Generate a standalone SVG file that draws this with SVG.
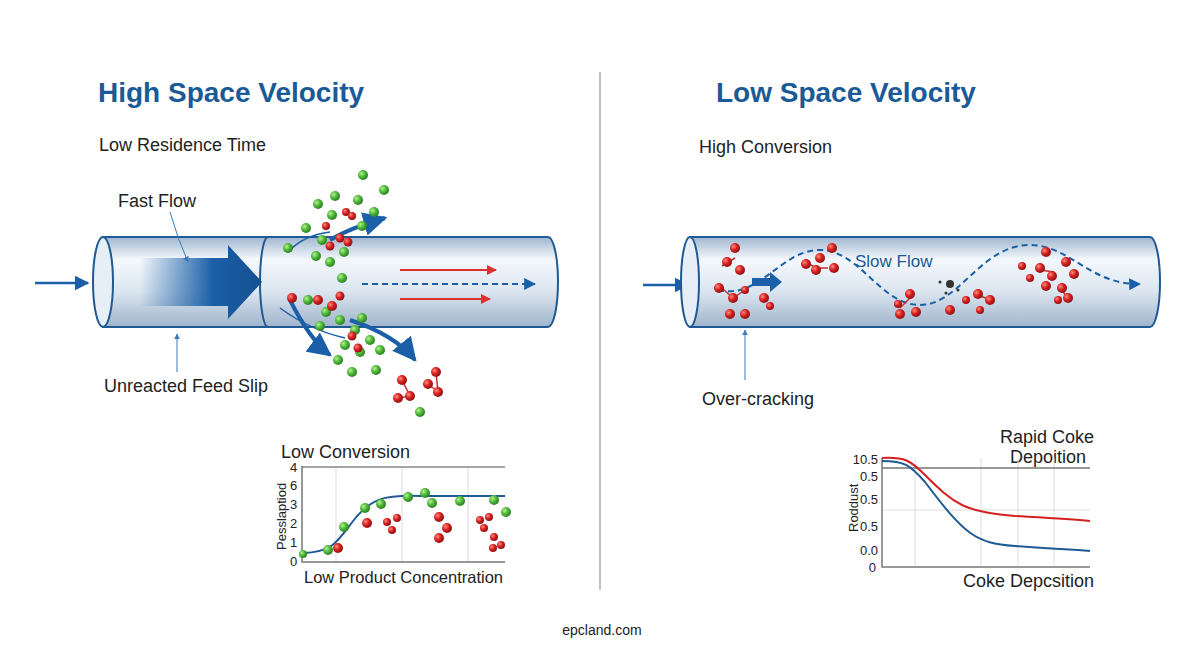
<svg xmlns="http://www.w3.org/2000/svg" width="1200" height="654" viewBox="0 0 1200 654">
<defs>
<linearGradient id="pipe" x1="0" y1="0" x2="0" y2="1">
<stop offset="0" stop-color="#9fb6cf"/><stop offset="0.25" stop-color="#f4f8fc"/><stop offset="0.6" stop-color="#dce6f0"/><stop offset="1" stop-color="#9fb4cc"/></linearGradient>
<linearGradient id="bigarrow" x1="0" y1="0" x2="1" y2="0">
<stop offset="0" stop-color="#1a5fa8" stop-opacity="0"/><stop offset="0.6" stop-color="#1a5fa8"/><stop offset="1" stop-color="#14508f"/></linearGradient>
<radialGradient id="g" cx="0.35" cy="0.35" r="0.7"><stop offset="0" stop-color="#b6f08a"/><stop offset="0.5" stop-color="#4cb83a"/><stop offset="1" stop-color="#2a7a20"/></radialGradient>
<radialGradient id="r" cx="0.35" cy="0.35" r="0.7"><stop offset="0" stop-color="#ff8a7a"/><stop offset="0.5" stop-color="#d42020"/><stop offset="1" stop-color="#8a1010"/></radialGradient>
<marker id="ah" viewBox="0 0 10 10" refX="9" refY="5" markerWidth="6" markerHeight="6" orient="auto"><path d="M0,0 L10,5 L0,10 z" fill="#1a5fa8"/></marker>
<marker id="ahr" viewBox="0 0 10 10" refX="9" refY="5" markerWidth="5" markerHeight="5" orient="auto"><path d="M0,0 L10,5 L0,10 z" fill="#e03030"/></marker>
<marker id="ahs" viewBox="0 0 10 10" refX="9" refY="5" markerWidth="6" markerHeight="6" orient="auto"><path d="M0,0 L10,5 L0,10 z" fill="#3a7ab8"/></marker>
</defs>
<style>
.t{font-family:"Liberation Sans",Arial,sans-serif;fill:#222}
.title{font-family:"Liberation Sans",Arial,sans-serif;font-weight:bold;font-size:28px;fill:#1a5a96}
.lbl{font-size:18px}
.ax{font-size:13px}
.pipe{fill:url(#pipe);stroke:#1f5a94;stroke-width:2}
.end{fill:#e6eef6;stroke:#1f5a94;stroke-width:2}
.gp{fill:url(#g)}
.rp{fill:url(#r)}
.grid{stroke:#ddd;stroke-width:1}
.axis{stroke:#777;stroke-width:1.5;fill:none}
.ptr{stroke:#3a7ab8;stroke-width:1;fill:none;marker-end:url(#ahs)}
.flow{stroke:#1a5fa8;stroke-width:4;fill:none;marker-end:url(#ah)}
.bond{stroke:#c03030;stroke-width:1.5}
</style>
<rect width="1200" height="654" fill="#fff"/>
<line x1="600" y1="72" x2="600" y2="590" stroke="#aab" stroke-width="1.5"/>

<g id="left-title"><text class="title" x="98" y="102">High Space Velocity</text>
<text class="t lbl" x="99" y="151">Low Residence Time</text></g>

<g id="left-pipe">
<path class="pipe" d="M103,237 H548 A10,45 0 0 1 548,327 H103 Z"/>
<ellipse class="end" cx="103" cy="282" rx="10" ry="45"/>
<path d="M268,237 A8,45 0 0 0 268,327" fill="none" stroke="#1f5a94" stroke-width="2"/>
<path d="M140,258 H228 V245 L262,282 L228,319 V306 H140 Z" fill="url(#bigarrow)"/>
<line x1="400" y1="270" x2="496" y2="270" stroke="#e03030" stroke-width="2" marker-end="url(#ahr)"/>
<line x1="400" y1="299" x2="490" y2="299" stroke="#e03030" stroke-width="2" marker-end="url(#ahr)"/>
<line x1="362" y1="284" x2="535" y2="284" stroke="#1a5fa8" stroke-width="2" stroke-dasharray="6,4" marker-end="url(#ah)"/>
</g>

<g id="connectors">
<line x1="35" y1="283" x2="88" y2="283" stroke="#1a5fa8" stroke-width="2.5" marker-end="url(#ah)"/>
<line x1="643" y1="285" x2="688" y2="285" stroke="#1a5fa8" stroke-width="2.5" marker-end="url(#ah)"/>
<path class="ptr" d="M170,212 Q178,240 188,262"/>
<line class="ptr" x1="177" y1="372" x2="177" y2="334"/>
<line class="ptr" x1="745" y1="380" x2="745" y2="330"/>
<path class="flow" d="M330,240 Q350,228 385,218"/>
<path class="flow" d="M290,300 Q310,340 330,355"/>
<path class="flow" d="M350,320 Q395,335 415,360"/>
<path d="M290,250 Q305,235 330,232" fill="none" stroke="#1a5fa8" stroke-width="1.5"/>
<path d="M280,308 Q310,330 345,338" fill="none" stroke="#1a5fa8" stroke-width="1.5"/>
</g>

<g id="left-particles">
<circle class="gp" cx="363" cy="175" r="5"/><circle class="gp" cx="384" cy="190" r="5"/><circle class="gp" cx="335" cy="196" r="5"/>
<circle class="gp" cx="358" cy="200" r="5"/><circle class="gp" cx="318" cy="204" r="5"/><circle class="gp" cx="374" cy="212" r="5"/>
<circle class="gp" cx="332" cy="215" r="5"/><circle class="gp" cx="362" cy="226" r="5"/><circle class="gp" cx="306" cy="228" r="5"/>
<circle class="gp" cx="322" cy="240" r="5"/><circle class="gp" cx="288" cy="248" r="5"/><circle class="gp" cx="344" cy="252" r="5"/>
<circle class="gp" cx="316" cy="256" r="5"/><circle class="gp" cx="330" cy="262" r="5"/><circle class="gp" cx="342" cy="278" r="5"/>
<circle class="gp" cx="308" cy="300" r="5"/><circle class="gp" cx="326" cy="312" r="5"/><circle class="gp" cx="340" cy="320" r="5"/>
<circle class="gp" cx="355" cy="330" r="5"/><circle class="gp" cx="370" cy="340" r="5"/><circle class="gp" cx="345" cy="345" r="5"/>
<circle class="gp" cx="360" cy="352" r="5"/><circle class="gp" cx="380" cy="350" r="5"/><circle class="gp" cx="338" cy="360" r="5"/>
<circle class="gp" cx="352" cy="372" r="5"/><circle class="gp" cx="376" cy="370" r="5"/><circle class="gp" cx="320" cy="326" r="5"/>
<circle class="gp" cx="420" cy="412" r="5"/><circle class="gp" cx="362" cy="318" r="5"/>
<circle class="rp" cx="346" cy="212" r="4"/><circle class="rp" cx="352" cy="216" r="4"/><circle class="rp" cx="326" cy="226" r="4"/>
<circle class="rp" cx="340" cy="238" r="4.5"/><circle class="rp" cx="330" cy="246" r="4.5"/><circle class="rp" cx="348" cy="242" r="4.5"/>
<circle class="rp" cx="292" cy="298" r="5"/><circle class="rp" cx="318" cy="300" r="5"/><circle class="rp" cx="332" cy="306" r="5"/>
<circle class="rp" cx="340" cy="296" r="4.5"/><circle class="rp" cx="358" cy="348" r="4.5"/><circle class="rp" cx="352" cy="336" r="4.5"/>
<line class="bond" x1="402" y1="380" x2="410" y2="396"/><line class="bond" x1="410" y1="396" x2="398" y2="398"/><line class="bond" x1="436" y1="372" x2="438" y2="392"/><line class="bond" x1="438" y1="392" x2="428" y2="384"/>
<circle class="rp" cx="402" cy="380" r="5"/><circle class="rp" cx="410" cy="396" r="5"/><circle class="rp" cx="398" cy="398" r="5"/>
<circle class="rp" cx="436" cy="372" r="5"/><circle class="rp" cx="438" cy="392" r="5"/><circle class="rp" cx="428" cy="384" r="5"/>
</g>

<g id="left-labels">
<text class="t lbl" x="118" y="207">Fast Flow</text>
<text class="t lbl" x="104" y="392">Unreacted Feed Slip</text>
</g>

<g id="left-chart">
<text class="t lbl" x="281" y="458">Low Conversion</text>
<line class="grid" x1="336" y1="467" x2="336" y2="562"/><line class="grid" x1="402" y1="467" x2="402" y2="562"/><line class="grid" x1="468" y1="467" x2="468" y2="562"/>
<line x1="302" y1="467" x2="505" y2="467" stroke="#888" stroke-width="1.5"/>
<path class="axis" d="M302,466 V562 H505"/>
<text class="t ax" x="290" y="472">4</text><text class="t ax" x="290" y="490">6</text><text class="t ax" x="290" y="509">3</text>
<text class="t ax" x="290" y="528">2</text><text class="t ax" x="290" y="547">1</text><text class="t ax" x="290" y="566">0</text>
<text class="t ax" transform="translate(286,550) rotate(-90)">Pesslaptiod</text>
<path d="M303,553 C330,552 335,545 350,525 C370,497 385,495 420,496 L505,496" fill="none" stroke="#1f5a94" stroke-width="2"/>
<circle class="gp" cx="303" cy="554" r="4"/><circle class="gp" cx="328" cy="550" r="5"/><circle class="gp" cx="344" cy="527" r="5"/>
<circle class="gp" cx="365" cy="508" r="5"/><circle class="gp" cx="381" cy="504" r="5"/><circle class="gp" cx="408" cy="497" r="5"/>
<circle class="gp" cx="425" cy="493" r="5"/><circle class="gp" cx="432" cy="503" r="5"/><circle class="gp" cx="460" cy="501" r="5"/>
<circle class="gp" cx="494" cy="500" r="5"/><circle class="gp" cx="506" cy="512" r="5"/>
<circle class="rp" cx="338" cy="548" r="5"/><circle class="rp" cx="367" cy="523" r="5"/><circle class="rp" cx="387" cy="522" r="4"/>
<circle class="rp" cx="397" cy="518" r="4"/><circle class="rp" cx="392" cy="530" r="4"/><circle class="rp" cx="439" cy="517" r="5"/>
<circle class="rp" cx="447" cy="528" r="5"/><circle class="rp" cx="439" cy="538" r="5"/><circle class="rp" cx="480" cy="520" r="4"/>
<circle class="rp" cx="489" cy="517" r="4"/><circle class="rp" cx="484" cy="528" r="4"/><circle class="rp" cx="494" cy="537" r="4"/>
<circle class="rp" cx="501" cy="545" r="4"/><circle class="rp" cx="493" cy="548" r="4"/>
<text class="t" x="304" y="583" font-size="16.5">Low Product Concentration</text>
</g>

<g id="right-title"><text class="title" x="716" y="102">Low Space Velocity</text>
<text class="t lbl" x="699" y="153">High Conversion</text></g>

<g id="right-pipe">
<path class="pipe" d="M690,237 H1150 A10,45 0 0 1 1150,327 H690 Z"/>
<ellipse class="end" cx="690" cy="282" rx="9" ry="45"/>
<path d="M718,290 C760,300 780,250 820,250 C860,250 880,305 920,305 C960,305 980,245 1030,245 C1070,245 1090,285 1140,284" fill="none" stroke="#1a5fa8" stroke-width="2" stroke-dasharray="6,4" marker-end="url(#ah)"/>
<path d="M752,278 H770 V272 L782,282 L770,292 V286 H752 Z" fill="#1a5fa8"/>
<text x="855" y="267" font-family="Liberation Sans,Arial,sans-serif" font-size="17" fill="#1a5a96">Slow Flow</text>
<g stroke="#c03030" stroke-width="1.5">
<line x1="722" y1="266" x2="735" y2="258"/><line x1="722" y1="288" x2="733" y2="298"/><line x1="745" y1="290" x2="733" y2="298"/>
<line x1="806" y1="262" x2="816" y2="268"/><line x1="828" y1="268" x2="816" y2="268"/><line x1="900" y1="308" x2="912" y2="296"/>
<line x1="976" y1="294" x2="990" y2="300"/><line x1="1040" y1="270" x2="1054" y2="272"/><line x1="1060" y1="288" x2="1068" y2="298"/>
</g>
<circle class="rp" cx="735" cy="248" r="5"/><circle class="rp" cx="727" cy="262" r="5"/><circle class="rp" cx="740" cy="270" r="5"/>
<circle class="rp" cx="719" cy="288" r="5"/><circle class="rp" cx="733" cy="298" r="5"/><circle class="rp" cx="745" cy="290" r="4"/>
<circle class="rp" cx="730" cy="314" r="5"/><circle class="rp" cx="745" cy="314" r="5"/><circle class="rp" cx="764" cy="298" r="5"/>
<circle class="rp" cx="770" cy="306" r="4"/><circle class="rp" cx="832" cy="248" r="5"/><circle class="rp" cx="820" cy="258" r="5"/>
<circle class="rp" cx="806" cy="264" r="5"/><circle class="rp" cx="816" cy="270" r="5"/><circle class="rp" cx="834" cy="268" r="5"/>
<circle class="rp" cx="910" cy="294" r="5"/><circle class="rp" cx="898" cy="304" r="4"/><circle class="rp" cx="900" cy="314" r="5"/>
<circle class="rp" cx="916" cy="312" r="5"/><circle class="rp" cx="950" cy="310" r="5"/><circle class="rp" cx="978" cy="294" r="5"/>
<circle class="rp" cx="966" cy="300" r="4"/><circle class="rp" cx="990" cy="300" r="5"/><circle class="rp" cx="980" cy="310" r="4"/>
<circle class="rp" cx="1046" cy="252" r="5"/><circle class="rp" cx="1022" cy="266" r="4"/><circle class="rp" cx="1040" cy="268" r="5"/>
<circle class="rp" cx="1052" cy="276" r="5"/><circle class="rp" cx="1066" cy="262" r="5"/><circle class="rp" cx="1074" cy="274" r="5"/>
<circle class="rp" cx="1046" cy="286" r="5"/><circle class="rp" cx="1062" cy="288" r="5"/><circle class="rp" cx="1068" cy="298" r="5"/>
<circle class="rp" cx="1058" cy="300" r="4"/><circle class="rp" cx="1030" cy="278" r="4"/>
<circle cx="950" cy="284" r="4" fill="#333"/><circle cx="940" cy="282" r="1.5" fill="#333"/><circle cx="946" cy="293" r="1.5" fill="#333"/><circle cx="958" cy="290" r="1.5" fill="#333"/>
</g>
<g id="right-labels"><text class="t lbl" x="702" y="405">Over-cracking</text></g>

<g id="right-chart">
<text class="t lbl" x="1000" y="443">Rapid Coke</text>
<text class="t lbl" x="1010" y="463">Depoition</text>
<line class="grid" x1="915" y1="458" x2="915" y2="567"/><line class="grid" x1="981" y1="458" x2="981" y2="567"/>
<line class="grid" x1="1018" y1="458" x2="1018" y2="567"/><line class="grid" x1="1054" y1="458" x2="1054" y2="567"/>
<line class="grid" x1="882" y1="510" x2="1090" y2="510"/>
<line x1="882" y1="468" x2="1090" y2="468" stroke="#777" stroke-width="1.5"/>
<path class="axis" d="M882,458 V567 H1090"/>
<text class="t ax" x="878" y="464" text-anchor="end">10.5</text><text class="t ax" x="878" y="481" text-anchor="end">0.5</text>
<text class="t ax" x="878" y="504" text-anchor="end">0.5</text><text class="t ax" x="878" y="531" text-anchor="end">0.5</text>
<text class="t ax" x="878" y="555" text-anchor="end">0.0</text><text class="t ax" x="876" y="572" text-anchor="end">0</text>
<text class="t ax" transform="translate(858,532) rotate(-90)">Roddust</text>
<path d="M882,458 C905,457 910,460 925,475 C955,505 965,512 1015,516 C1050,518 1070,519 1090,521" fill="none" stroke="#d42020" stroke-width="2"/>
<path d="M882,461 C905,461 910,465 925,482 C965,535 975,543 1015,546 C1050,549 1070,549 1090,551" fill="none" stroke="#1f5a94" stroke-width="2"/>
<text class="t lbl" x="963" y="587">Coke Depcsition</text>
</g>

<text x="602" y="635" text-anchor="middle" font-family="Liberation Sans,Arial,sans-serif" font-size="14" fill="#222">epcland.com</text>
</svg>
